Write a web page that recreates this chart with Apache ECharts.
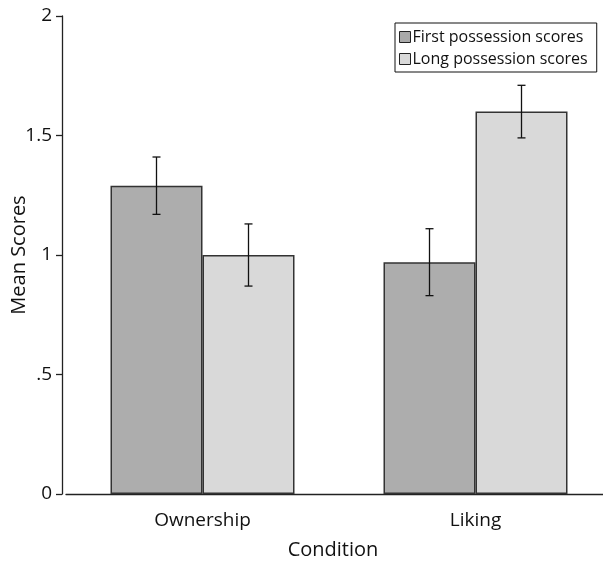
<!DOCTYPE html>
<html><head><meta charset="utf-8">
<script src="https://cdn.jsdelivr.net/npm/echarts@6/dist/echarts.min.js"></script>
<style>html,body{margin:0;padding:0;background:#fff}#c{width:603px;height:563px}</style>
</head><body><div id="c"></div>
<script>
const categories = ['Ownership', 'Liking'];
const firstScores = [1.29, 0.97];
const firstErr = [0.12, 0.14];
const longScores = [1.00, 1.60];
const longErr = [0.13, 0.11];
const yTicks = {0: '0', 0.5: '.5', 1: '1', 1.5: '1.5', 2: '2'};
const FONT = '"Open Sans", sans-serif';
const BAR_RATIO = 0.337;

function errSeries(values, errs, dir, name) {
  return {
    type: 'custom', name: name + ' err', z: 10, silent: true,
    data: values.map((v, i) => [i, v - errs[i], v + errs[i]]),
    renderItem: function (params, api) {
      const band = api.size([1, 0])[0];
      const bw = band * BAR_RATIO;
      const c = api.coord([api.value(0), api.value(1)]);
      const x = c[0] + dir * bw / 2;
      const lo = c[1];
      const hi = api.coord([api.value(0), api.value(2)])[1];
      const cap = 4;
      const st = {stroke: '#111', lineWidth: 1.3};
      return {type: 'group', children: [
        {type: 'line', shape: {x1: x, y1: lo, x2: x, y2: hi}, style: st},
        {type: 'line', shape: {x1: x - cap, y1: lo, x2: x + cap, y2: lo}, style: st},
        {type: 'line', shape: {x1: x - cap, y1: hi, x2: x + cap, y2: hi}, style: st}
      ]};
    }
  };
}

const chart = echarts.init(document.getElementById('c'));
chart.setOption({
  animation: false,
  textStyle: {fontFamily: FONT},
  grid: {left: 66, right: -9, top: 16, bottom: 69, containLabel: false, outerBoundsMode: 'none'},
  legend: {
    orient: 'vertical', left: 395, top: 23,
    borderColor: '#111', borderWidth: 1, padding: [6, 9, 5, 4],
    itemWidth: 11, itemHeight: 11, itemGap: 6,
    textStyle: {fontFamily: FONT, fontSize: 16, color: '#111', padding: [0, 0, 0, -3]},
    data: [
      {name: 'First possession scores', icon: 'rect', itemStyle: {color: '#a9a9a9', borderColor: '#222', borderWidth: 1}},
      {name: 'Long possession scores', icon: 'rect', itemStyle: {color: '#d9d9d9', borderColor: '#222', borderWidth: 1}}
    ]
  },
  xAxis: {
    type: 'category', data: categories,
    axisLine: {lineStyle: {color: '#222', width: 1.3}},
    axisTick: {show: false},
    axisLabel: {fontFamily: FONT, fontSize: 19, color: '#111', margin: 17},
    name: 'Condition', nameLocation: 'middle', nameGap: 46, nameMoveOverlap: false,
    nameTextStyle: {fontFamily: FONT, fontSize: 20, color: '#111', padding: [0, 12, 0, 0]}
  },
  yAxis: {
    type: 'value', min: 0, max: 2, interval: 0.5, offset: 4,
    splitLine: {show: false},
    axisLine: {show: true, lineStyle: {color: '#222', width: 1.3}},
    axisTick: {show: true, inside: false, length: 6, lineStyle: {color: '#222', width: 1.3}},
    axisLabel: {fontFamily: FONT, fontSize: 19, color: '#111', margin: 10,
      formatter: v => yTicks[v] !== undefined ? yTicks[v] : ''},
    name: 'Mean Scores', nameLocation: 'middle', nameGap: 33, nameRotate: 90, nameMoveOverlap: false,
    nameTextStyle: {fontFamily: FONT, fontSize: 20, color: '#111'}
  },
  series: [
    {type: 'bar', name: 'First possession scores', data: firstScores,
      barWidth: (BAR_RATIO * 100) + '%', barGap: '0%',
      itemStyle: {color: '#adadad', borderColor: '#333', borderWidth: 1.5}},
    {type: 'bar', name: 'Long possession scores', data: longScores,
      barWidth: (BAR_RATIO * 100) + '%', barGap: '0%',
      itemStyle: {color: '#d9d9d9', borderColor: '#333', borderWidth: 1.5}},
    errSeries(firstScores, firstErr, -1, 'First possession scores'),
    errSeries(longScores, longErr, 1, 'Long possession scores')
  ]
});
</script></body></html>
